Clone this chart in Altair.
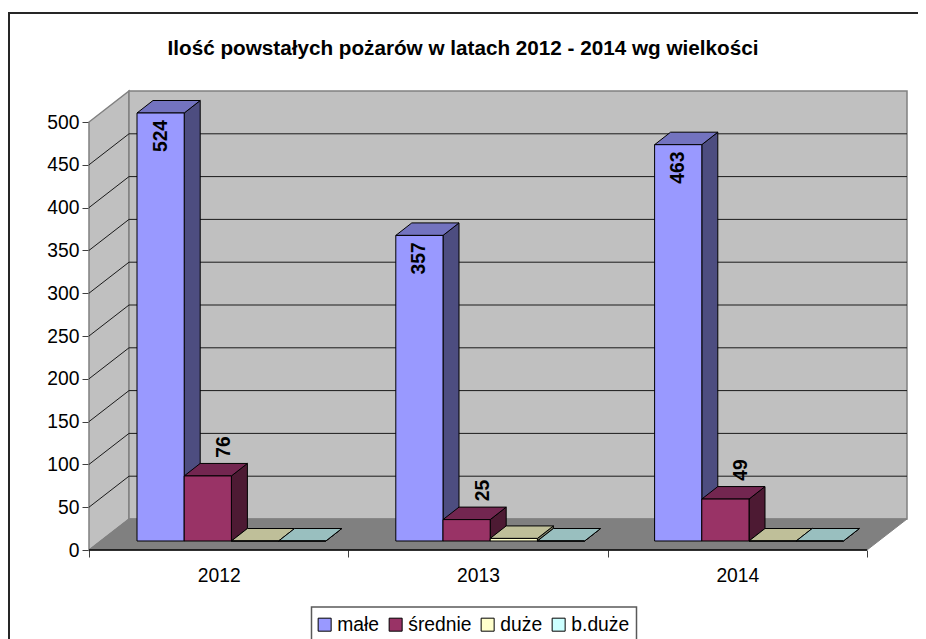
import altair as alt
import pandas as pd

# ---- values ----
years = ["2012", "2013", "2014"]
series_names = ["małe", "średnie", "duże", "b.duże"]
male = [524, 357, 463]
srednie = [76, 25, 49]
duze = [0, 3, 0]
b_duze = [0, 0, 0]
labelled = ["małe", "średnie"]
y_ticks = [0, 50, 100, 150, 200, 250, 300, 350, 400, 450, 500]
front_colors = ["#9999FF", "#993366", "#FFFFCC", "#CCFFFF"]
top_colors = ["#7373BF", "#732650", "#BFBF99", "#99BFBF"]
side_colors = ["#4D4D80", "#4D1A33", "#808066", "#668080"]
all_values = [male, srednie, duze, b_duze]

# ---- geometry ----
AXIS_MAX = 500
PW, PH = 818, 459            # plot area from x 89 to 907, y 91 to 550
PX_CAT = 778 / 3
PX_UNIT = 428 / 500
sx = lambda px: px / PX_CAT
sy = lambda px: px / PX_UNIT
WALL_X, WALL_Y = sx(40), sy(31)
BAR_W = sx(47.2)
GAP = sx(35.4)
STEP = sx(258.8)
SHIFT_X, SHIFT_Y = sx(12.6), sy(9)
DEPTH_X, DEPTH_Y = sx(16), sy(12.5)
FONT = "Liberation Sans"
FS = 19.3

x_scale = alt.Scale(domain=[0, PW / PX_CAT], range=[0, PW], nice=False, zero=False)
y_scale = alt.Scale(domain=[0, PH / PX_UNIT], range=[PH, 0], nice=False, zero=False)
X = lambda f="x": alt.X(f"{f}:Q", scale=x_scale, axis=None)
Y = lambda f="y": alt.Y(f"{f}:Q", scale=y_scale, axis=None, stack=None)

# ---- tables ----
fronts, sides, tops, labels = [], [], [], []
for si, (name, vals) in enumerate(zip(series_names, all_values)):
    for yi, v in enumerate(vals):
        shown = min(v, AXIS_MAX)
        left = yi * STEP + GAP + SHIFT_X + si * BAR_W
        right = left + BAR_W
        base = SHIFT_Y
        top = base + shown
        key = f"{si}-{yi}"
        fronts.append(dict(series=name, x=left, x2=right, y=base, y2=top))
        sides.append(dict(k=key, si=si, x=right, y=base, y2=top))
        sides.append(dict(k=key, si=si, x=right + DEPTH_X, y=base + DEPTH_Y, y2=top + DEPTH_Y))
        tops.append(dict(k=key, si=si, y=top, x=left, x2=right))
        tops.append(dict(k=key, si=si, y=top + DEPTH_Y, x=left + DEPTH_X, x2=right + DEPTH_X))
        if name in labelled:
            centre = (left + right) / 2
            if shown >= 200:
                labels.append(dict(t=str(v), x=centre, y=top - sy(23)))
            else:
                labels.append(dict(t=str(v), x=centre + sx(16), y=top + sy(29)))

fronts, sides, tops, labels = map(pd.DataFrame, (fronts, sides, tops, labels))

GREY = "#808080"
# ---- walls & floor ----
frame = alt.Chart(alt.Data(values=[{}])).mark_rect(
    fill="white", fillOpacity=0, stroke="#262626", strokeWidth=2
).encode(x=alt.value(-80), x2=alt.value(900), y=alt.value(-78), y2=alt.value(700))

legend_box = alt.Chart(alt.Data(values=[{}])).mark_rect(
    fill="white", fillOpacity=0, stroke="#595959", strokeWidth=1.5
).encode(x=alt.value(222.5), x2=alt.value(547.5), y=alt.value(516), y2=alt.value(600))

left_wall = alt.Chart(pd.DataFrame(dict(
    x=[0, WALL_X], y=[0, WALL_Y], y2=[AXIS_MAX, AXIS_MAX + WALL_Y]))
).mark_area(fill="#C0C0C0", stroke=GREY, strokeWidth=1.5).encode(x=X(), y=Y(), y2="y2:Q")

back_wall = alt.Chart(pd.DataFrame(dict(
    x=[WALL_X], x2=[3 + WALL_X], y=[WALL_Y], y2=[AXIS_MAX + WALL_Y]))
).mark_rect(fill="#C0C0C0", stroke=GREY, strokeWidth=1.5).encode(x=X(), x2="x2:Q", y=Y(), y2="y2:Q")

floor = alt.Chart(pd.DataFrame(dict(
    y=[0, WALL_Y], x=[0, WALL_X], x2=[3, 3 + WALL_X]))
).mark_area(orient="horizontal", fill=GREY, stroke=GREY).encode(x=X(), x2="x2:Q", y=Y())

grid_rows = [t for t in y_ticks if 0 < t < AXIS_MAX]
back_grid = alt.Chart(pd.DataFrame(dict(
    x=[WALL_X] * len(grid_rows), x2=[3 + WALL_X] * len(grid_rows),
    y=[t + WALL_Y for t in grid_rows]))
).mark_rule(color="#1A1A1A", strokeWidth=1).encode(x=X(), x2="x2:Q", y=Y())

side_rows = []
for t in grid_rows:
    side_rows += [dict(k=t, x=0, y=t), dict(k=t, x=WALL_X, y=t + WALL_Y)]
side_grid = alt.Chart(pd.DataFrame(side_rows)).mark_line(color="#1A1A1A", strokeWidth=1).encode(
    x=X(), y=Y(), detail="k:N")

# ---- axes ----
y_axis = alt.Chart(pd.DataFrame(dict(y=y_ticks))).mark_tick(opacity=0).encode(
    y=alt.Y("y:Q", scale=y_scale, axis=alt.Axis(
        values=y_ticks, title=None, domain=False, grid=False, tickColor="#404040", tickSize=7,
        labelFont=FONT, labelFontSize=FS, labelColor="black", labelPadding=3, orient="left")))

front_line = alt.Chart(pd.DataFrame(dict(x=[0], x2=[3], y=[0]))).mark_rule(
    color="black", strokeWidth=1.5
).encode(
    x=alt.X("x:Q", scale=x_scale, axis=alt.Axis(
        values=[0, 1, 2, 3], title=None, domain=False, grid=False, labels=False,
        tickColor="#404040", tickSize=7, orient="bottom")),
    x2="x2:Q", y=Y())

year_expr = "[" + ",".join(f"'{y}'" for y in years) + "][floor(datum.value)]"
year_axis = alt.Chart(pd.DataFrame(dict(x=[0.5, 1.5, 2.5]))).mark_tick(opacity=0).encode(
    x=alt.X("x:Q", scale=x_scale, axis=alt.Axis(
        values=[0.5, 1.5, 2.5], title=None, domain=False, grid=False, ticks=False,
        labelExpr=year_expr, labelFont=FONT, labelFontSize=FS, labelColor="black",
        labelPadding=16, orient="bottom")))

# ---- bars ----
bar_layers = []
for si in range(len(series_names)):
    bar_layers.append(alt.Chart(sides[sides.si == si]).mark_area(
        fill=side_colors[si], stroke="black", strokeWidth=1).encode(
        x=X(), y=Y(), y2="y2:Q", detail="k:N"))
    bar_layers.append(alt.Chart(tops[tops.si == si]).mark_area(
        orient="horizontal", fill=top_colors[si], stroke="black", strokeWidth=1).encode(
        x=X(), x2="x2:Q", y=Y(), detail="k:N"))

front = alt.Chart(fronts).mark_rect(stroke="black", strokeWidth=1).encode(
    x=X(), x2="x2:Q", y=Y(), y2="y2:Q",
    color=alt.Color("series:N", scale=alt.Scale(domain=series_names, range=front_colors),
                    legend=alt.Legend(
                        orient="none", legendX=219, legendY=517, direction="horizontal",
                        columns=4, title=None, symbolType="square", symbolSize=169,
                        symbolStrokeColor="black", symbolStrokeWidth=1,
                        labelFont=FONT, labelFontSize=FS, labelColor="black",
                        labelOffset=3, columnPadding=6, padding=7)))

text = alt.Chart(labels).mark_text(
    angle=270, align="center", baseline="middle", font=FONT, fontSize=FS, fontWeight="bold",
    color="black").encode(x=X(), y=Y(), text="t:N")

chart = alt.layer(
    frame, legend_box, left_wall, back_wall, floor, back_grid, side_grid, y_axis, front_line, year_axis,
    *bar_layers, front, text
).resolve_axis(x="independent", y="independent").properties(
    width=PW, height=PH,
    autosize=alt.AutoSizeParams(type="none"),
    padding={"left": 81, "top": 83, "right": 11, "bottom": 89},
    background="white",
    title=alt.TitleParams(
        "Ilość powstałych pożarów w latach 2012 - 2014 wg wielkości",
        font=FONT, fontSize=20.7, fontWeight="bold", color="black",
        anchor="middle", frame="group", dx=-35, offset=0, dy=48),
).configure_view(stroke=None)

chart.save("out.html", embed_options={"renderer": "svg", "actions": False})
